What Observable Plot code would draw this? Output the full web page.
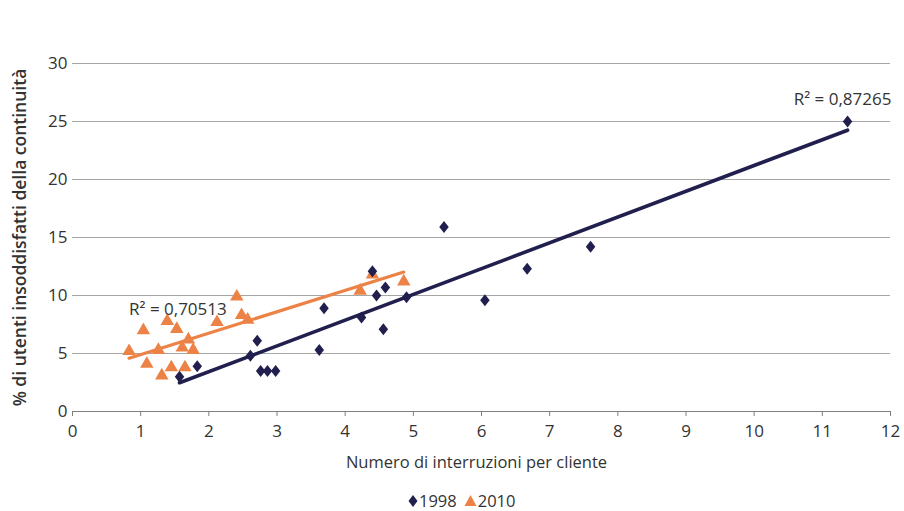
<!DOCTYPE html>
<html>
<head>
<meta charset="utf-8">
<script src="https://cdn.jsdelivr.net/npm/d3@7"></script>
<script src="https://cdn.jsdelivr.net/npm/@observablehq/plot@0.6"></script>
<style>
  body { margin: 0; background: #fff; }
  #wrap { position: relative; width: 904px; height: 511px; font-family: "Open Sans", sans-serif; }
  #legend { position: absolute; top: 489px; left: 408px; font-size: 16.5px; color: #333; display: flex; gap: 7px; align-items: center; }
  #legend span { display: inline-flex; align-items: center; gap: 1px; }
</style>
</head>
<body>
<div id="wrap"><div id="chart"></div><div id="legend"></div></div>
<script>
// 1998 series
const x1998 = [1.57, 1.83, 2.61, 2.71, 2.76, 2.86, 2.98, 3.62, 3.69, 4.24, 4.40, 4.46, 4.56, 4.59, 4.90, 5.45, 6.05, 6.67, 7.60, 11.37];
const y1998 = [3.0, 3.9, 4.8, 6.1, 3.5, 3.5, 3.5, 5.3, 8.9, 8.1, 12.1, 10.0, 7.1, 10.7, 9.85, 15.9, 9.6, 12.3, 14.2, 25.0];
// 2010 series
const x2010 = [0.83, 1.04, 1.09, 1.26, 1.31, 1.39, 1.45, 1.53, 1.61, 1.65, 1.70, 1.77, 2.12, 2.41, 2.48, 2.57, 4.22, 4.40, 4.86];
const y2010 = [5.2, 7.0, 4.1, 5.3, 3.1, 7.8, 3.8, 7.1, 5.5, 3.8, 6.2, 5.3, 7.7, 9.9, 8.3, 7.9, 10.4, 11.8, 11.2];
const seriesNames = ["1998", "2010"];
const r2Labels = ["R\u00B2 = 0,87265", "R\u00B2 = 0,70513"];
const xTicks = [0,1,2,3,4,5,6,7,8,9,10,11,12];
const yTicks = [0,5,10,15,20,25,30];
const xTitle = "Numero di interruzioni per cliente";
const yTitle = "% di utenti insoddisfatti della continuità";

const NAVY = "#201f4e", ORANGE = "#ec8246";
const d1998 = x1998.map((x, i) => ({x, y: y1998[i]}));
const d2010 = x2010.map((x, i) => ({x, y: y2010[i]}));

const diamond = {
  draw(ctx, size) {
    const s = Math.sqrt(size / Math.PI);
    ctx.moveTo(0, -1.2 * s); ctx.lineTo(0.95 * s, 0); ctx.lineTo(0, 1.2 * s); ctx.lineTo(-0.95 * s, 0); ctx.closePath();
  }
};

const chart = Plot.plot({
  width: 904, height: 480,
  marginLeft: 72, marginRight: 14, marginTop: 63, marginBottom: 69,
  style: {fontFamily: "'Open Sans', sans-serif", fontSize: "17px", color: "#333", background: "transparent"},
  x: {domain: [0, 12]},
  y: {domain: [0, 30]},
  marks: [
    Plot.gridY(yTicks.filter(d => d > 0), {stroke: "#9c9c9c", strokeOpacity: 1, strokeWidth: 0.9}),
    Plot.ruleY([0], {stroke: "#808080", strokeWidth: 1.2}),
    Plot.axisX({ticks: xTicks, tickSize: 5, tickPadding: 8, tickFormat: d => String(d), label: null, stroke: "#808080"}),
    Plot.axisY({ticks: yTicks, tickSize: 0, tickPadding: 5, label: null}),
    Plot.text([xTitle], {frameAnchor: "bottom", dx: -5, dy: 56, fontSize: 16.5, fill: "#333"}),
    Plot.text([yTitle], {frameAnchor: "left", textAnchor: "middle", rotate: -90, dx: -52, fontSize: 17.5, fontWeight: 600, fill: "#333"}),
    Plot.linearRegressionY(d2010, {x: "x", y: "y", stroke: ORANGE, strokeWidth: 3.2, ci: 0}),
    Plot.linearRegressionY(d1998, {x: "x", y: "y", stroke: NAVY, strokeWidth: 3.6, ci: 0}),
    Plot.dot(d2010, {x: "x", y: "y", symbol: "triangle", r: 5, fill: ORANGE, stroke: "none"}),
    Plot.dot(d1998, {x: "x", y: "y", symbol: diamond, r: 5, fill: NAVY, stroke: "none"}),
    Plot.text(d1998, Plot.selectMaxX({x: "x", y: "y", text: () => r2Labels[0], dx: -5, dy: -22, fontSize: 17, fill: "#333"})),
    Plot.text(d2010, Plot.selectMinX({x: "x", y: "y", text: () => r2Labels[1], textAnchor: "start", dx: 0, dy: -42, fontSize: 17, fill: "#333"}))
  ]
});
document.getElementById("chart").appendChild(chart);

const legend = document.getElementById("legend");
legend.innerHTML =
  `<span><svg width="10" height="14"><path d="M5,1 L9.5,7 L5,13 L0.5,7 Z" fill="${NAVY}"/></svg>${seriesNames[0]}</span>` +
  `<span><svg width="13" height="13"><path d="M6.5,1 L12.5,12 L0.5,12 Z" fill="${ORANGE}"/></svg>${seriesNames[1]}</span>`;
</script>
</body>
</html>
